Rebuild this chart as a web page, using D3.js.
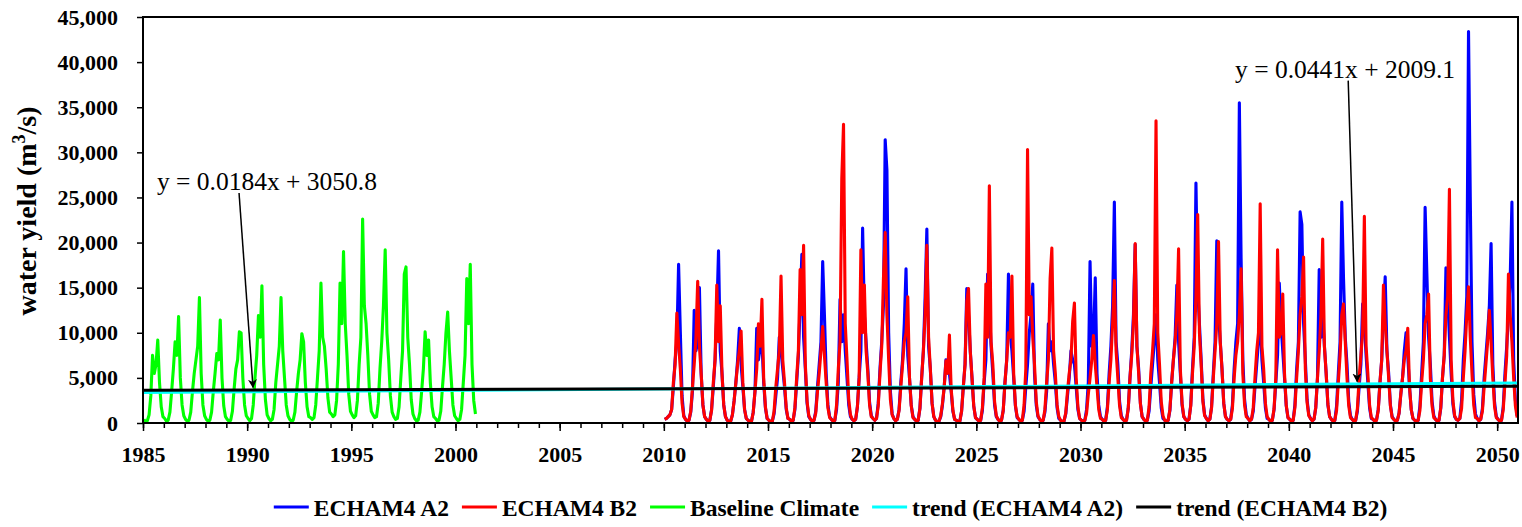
<!DOCTYPE html>
<html>
<head>
<meta charset="utf-8">
<script src="https://cdn.jsdelivr.net/npm/d3@7/dist/d3.min.js"></script>
<style>
  body { margin: 0; background: #fff; }
  svg { display: block; font-family: "Liberation Serif", "Times New Roman", serif; }
  .axis text { font-family: "Liberation Serif", "Times New Roman", serif; font-size: 22px; font-weight: bold; fill: #000; }
  .axis line { stroke: #000; stroke-width: 1.5px; }
  .axis path { display: none; }
  .series { fill: none; stroke-width: 3.1px; stroke-linejoin: round; }
</style>
</head>
<body>
<svg id="chart" width="1522" height="527"></svg>
<script>
// monthly water yield (m3/s), one row per year, Jan..Dec
const baselineStart = 1985;
const baselineRows = [
  [400, 150, 250, 900, 3000, 7500, 5500, 6500, 9200, 4500, 1800, 700],
  [500, 200, 300, 1200, 3500, 6000, 9000, 7500, 11800, 5000, 2000, 800],
  [400, 200, 300, 1200, 3500, 5500, 7000, 8500, 13900, 5500, 2000, 800],
  [400, 200, 300, 1200, 3500, 5500, 7700, 7000, 11400, 5000, 1900, 700],
  [400, 200, 300, 1300, 3800, 6000, 7000, 10100, 10000, 5000, 2000, 800],
  [500, 250, 500, 2000, 5000, 7500, 11900, 9500, 15200, 6500, 2600, 900],
  [500, 250, 400, 1500, 4500, 6500, 8500, 13900, 8000, 5000, 2000, 800],
  [400, 200, 300, 1200, 3500, 5500, 7000, 9900, 9000, 4500, 1800, 700],
  [600, 400, 600, 2000, 5000, 8000, 15500, 9500, 8500, 6000, 2800, 1200],
  [1000, 700, 900, 2500, 6500, 15500, 11000, 19000, 11000, 7500, 3200, 1300],
  [900, 600, 800, 2500, 6500, 9500, 22600, 13000, 11000, 7500, 3200, 1300],
  [900, 600, 700, 2200, 6000, 9000, 13000, 19200, 10000, 7000, 3000, 1200],
  [700, 400, 500, 1800, 5000, 8000, 16500, 17300, 9500, 6500, 2600, 1000],
  [500, 250, 300, 1200, 3500, 6000, 10100, 7500, 9200, 4500, 1800, 700],
  [500, 250, 300, 1300, 4000, 6500, 10000, 12300, 8000, 5000, 2000, 800],
  [500, 250, 400, 1500, 4500, 7500, 16000, 11000, 17600, 6500, 2500, 1000]
];

const scenarioStart = 2010;
const a2Rows = [
  [400, 500, 700, 900, 1500, 4000, 7000, 9000, 17600, 10100, 3000, 800],
  [400, 200, 300, 1200, 3500, 12500, 8000, 9000, 15000, 5500, 2000, 700],
  [400, 200, 300, 1500, 4000, 7000, 12000, 19100, 8000, 5500, 2000, 700],
  [300, 150, 200, 900, 2500, 4500, 7000, 10500, 6500, 4000, 1500, 500],
  [300, 150, 200, 1200, 3500, 10500, 7000, 8500, 9000, 4500, 1700, 500],
  [300, 150, 200, 1000, 3000, 5000, 9500, 8000, 6000, 4000, 1500, 500],
  [400, 200, 300, 1500, 4500, 7500, 13000, 18700, 9500, 6000, 2200, 700],
  [400, 200, 300, 1300, 4000, 6500, 9000, 17900, 12000, 5500, 2000, 700],
  [400, 200, 300, 1500, 4500, 13700, 9000, 12000, 8000, 5000, 2000, 700],
  [400, 250, 400, 1800, 5000, 8000, 21600, 12000, 9000, 6000, 2300, 800],
  [500, 300, 500, 2200, 6000, 9000, 13000, 31400, 28000, 10000, 3500, 1000],
  [500, 250, 400, 1500, 4500, 7000, 11000, 17100, 7500, 5000, 2000, 700],
  [400, 200, 300, 1600, 5000, 8000, 14000, 21500, 8500, 6000, 2200, 700],
  [300, 150, 200, 700, 2000, 4000, 7000, 6000, 5500, 3500, 1300, 400],
  [300, 150, 200, 1300, 4000, 6500, 14900, 12000, 8000, 5000, 1900, 600],
  [400, 200, 300, 1400, 4500, 7000, 16500, 13000, 8500, 5500, 2000, 700],
  [400, 200, 300, 1400, 4500, 7000, 16500, 10000, 8000, 5000, 1900, 600],
  [400, 200, 300, 1300, 4000, 6500, 10000, 12000, 15400, 5500, 2000, 700],
  [400, 200, 300, 1200, 3500, 11000, 8000, 9000, 6500, 4500, 1700, 500],
  [300, 150, 200, 1000, 3000, 5000, 8000, 7000, 6500, 4000, 1500, 500],
  [300, 200, 300, 1500, 4500, 17900, 8500, 9000, 16100, 5500, 2000, 700],
  [400, 200, 300, 1800, 5500, 8500, 13000, 24500, 9000, 6500, 2400, 800],
  [400, 200, 300, 1600, 5000, 8000, 12000, 19800, 8500, 6000, 2200, 700],
  [400, 200, 300, 1300, 4000, 6500, 9000, 12000, 7000, 4500, 1700, 500],
  [300, 200, 300, 1400, 4500, 7000, 9500, 15300, 9000, 5500, 2000, 700],
  [400, 250, 400, 2000, 6000, 9500, 26600, 15000, 11000, 7000, 2600, 900],
  [500, 250, 400, 1800, 5500, 9000, 20200, 12000, 9000, 6000, 2200, 700],
  [400, 250, 400, 2000, 6000, 9000, 11000, 35500, 18300, 7000, 2600, 900],
  [500, 250, 400, 1300, 4000, 6500, 9000, 12000, 7000, 4500, 1700, 500],
  [400, 200, 300, 1500, 4500, 7500, 15500, 11000, 8000, 5000, 1900, 600],
  [400, 200, 300, 2000, 6000, 9000, 23400, 22000, 11000, 7000, 2600, 900],
  [500, 250, 400, 1700, 5000, 17000, 9500, 12000, 8500, 5500, 2000, 700],
  [400, 200, 300, 1900, 5500, 9000, 24500, 16000, 9500, 6500, 2400, 800],
  [400, 200, 300, 1300, 4000, 6500, 13200, 11000, 7500, 4500, 1700, 500],
  [400, 200, 300, 1500, 4500, 7000, 12000, 16200, 8000, 5500, 2000, 700],
  [400, 200, 300, 1100, 3200, 5000, 8000, 10000, 7500, 4000, 1500, 500],
  [300, 200, 300, 1900, 5500, 9000, 23900, 16600, 9500, 6500, 2400, 800],
  [400, 200, 300, 1600, 5000, 7500, 17200, 14000, 9500, 5500, 2100, 700],
  [400, 300, 500, 2500, 7000, 10000, 14000, 43400, 25100, 9000, 3200, 1000],
  [500, 250, 400, 1600, 5000, 7500, 10000, 13000, 19900, 6500, 2300, 700],
  [400, 200, 300, 1800, 5500, 8500, 12000, 16000, 24500, 7000, 2500, 800]
];

const b2Rows = [
  [400, 500, 700, 900, 1500, 4500, 6500, 12200, 8800, 6000, 2200, 700],
  [400, 200, 300, 1300, 4000, 6500, 9400, 15700, 8500, 5500, 2000, 700],
  [400, 200, 300, 1400, 4500, 7000, 15300, 9000, 13000, 5500, 2000, 700],
  [300, 150, 200, 900, 2500, 4500, 6500, 8000, 10200, 4500, 1500, 500],
  [300, 150, 200, 1200, 3500, 6000, 11000, 8500, 13700, 5000, 1800, 500],
  [300, 150, 200, 1300, 4000, 6000, 8000, 16300, 7000, 4500, 1700, 500],
  [400, 200, 300, 1700, 5000, 8000, 17000, 12000, 19700, 6500, 2400, 800],
  [400, 200, 300, 1100, 3500, 5500, 8000, 10700, 7500, 4500, 1700, 600],
  [400, 200, 300, 2000, 6000, 9000, 27100, 33100, 11000, 7000, 2600, 900],
  [400, 250, 400, 1800, 5000, 19200, 10000, 15300, 8000, 5500, 2000, 700],
  [500, 300, 500, 1900, 5500, 8500, 16000, 21100, 12000, 7000, 2600, 900],
  [500, 250, 400, 1400, 4000, 6500, 9000, 10000, 14000, 5000, 1900, 600],
  [400, 200, 300, 1600, 5000, 8000, 12000, 19700, 9500, 6000, 2200, 700],
  [300, 150, 200, 800, 2200, 4000, 6900, 5500, 9750, 3800, 1400, 400],
  [300, 150, 200, 1300, 4000, 6500, 13500, 14900, 8000, 5000, 1900, 600],
  [400, 200, 300, 1700, 5000, 15400, 9500, 26300, 9000, 6500, 2400, 800],
  [400, 200, 300, 1400, 4500, 7000, 10000, 9500, 16300, 5500, 2000, 700],
  [400, 200, 300, 2000, 6000, 30300, 12000, 14000, 9500, 6500, 2400, 800],
  [400, 200, 300, 1500, 4500, 7000, 16000, 19400, 8000, 5500, 2000, 700],
  [300, 150, 200, 1100, 3500, 5500, 7000, 11300, 13300, 5000, 1800, 500],
  [300, 200, 300, 1100, 3200, 5000, 7000, 9700, 6500, 4000, 1500, 500],
  [400, 200, 300, 1500, 4500, 7000, 11000, 15800, 8000, 5000, 1900, 600],
  [400, 200, 300, 1600, 5000, 7500, 11000, 19900, 8500, 5500, 2100, 700],
  [400, 200, 300, 1800, 5500, 8000, 11000, 33500, 10000, 6500, 2400, 800],
  [300, 200, 300, 1500, 4500, 7000, 9000, 12000, 19300, 6000, 2200, 700],
  [400, 250, 400, 1900, 5500, 8500, 14000, 23100, 10000, 6500, 2400, 800],
  [500, 250, 400, 1700, 5000, 8000, 11000, 20100, 9000, 6000, 2200, 700],
  [400, 250, 400, 1600, 5000, 7500, 9000, 12000, 17100, 5500, 2000, 700],
  [500, 250, 400, 1700, 5000, 8000, 10000, 24300, 8500, 6000, 2200, 700],
  [400, 200, 300, 1600, 5000, 19200, 9500, 10000, 14300, 5500, 2000, 600],
  [400, 200, 300, 1700, 5000, 8000, 12000, 14000, 18400, 6000, 2300, 800],
  [500, 250, 400, 1700, 5000, 8000, 12000, 20400, 8500, 5500, 2100, 700],
  [400, 200, 300, 1400, 4500, 7500, 12000, 13200, 9000, 5000, 1900, 600],
  [400, 200, 300, 1600, 5000, 7500, 10000, 22900, 8500, 5500, 2000, 600],
  [400, 200, 300, 1400, 4500, 7000, 15300, 11000, 8000, 5000, 1900, 600],
  [400, 200, 300, 1100, 3200, 5000, 7000, 8000, 10500, 4000, 1500, 500],
  [300, 200, 300, 1400, 4500, 7000, 11000, 12000, 14300, 5000, 1900, 600],
  [400, 200, 300, 1700, 5000, 7500, 12000, 14000, 25900, 7000, 2500, 800],
  [400, 300, 500, 1600, 5000, 8000, 12000, 15100, 9500, 5500, 2000, 600],
  [500, 250, 400, 1300, 4000, 6500, 9000, 12500, 9000, 5000, 1800, 600],
  [400, 200, 300, 1500, 4500, 7500, 16500, 12000, 9000, 5000, 1900, 600]
];

// linear trends, x = Excel date serial: [slope, intercept]
const trendA2 = [0.0441, 2009.1];
const trendB2 = [0.0184, 3050.8];

const yTicks = [0, 5000, 10000, 15000, 20000, 25000, 30000, 35000, 40000, 45000];
const xLabelYears = [1985, 1990, 1995, 2000, 2005, 2010, 2015, 2020, 2025, 2030, 2035, 2040, 2045, 2050];
const xDomain = [1985, 2051];

const legendLabels = ["ECHAM4 A2", "ECHAM4 B2", "Baseline Climate", "trend (ECHAM4 A2)", "trend (ECHAM4 B2)"];
const legendColors = ["#0000ff", "#ff0000", "#00ff00", "#00ffff", "#000000"];

// equation labels: text, label position (year, value), arrow start and tip (year, value)
const equationLabels = [
  {text: "y = 0.0184x + 3050.8", at: [1985.67, 25800], from: [1989.61, 25500], to: [1990.28, 3950]},
  {text: "y = 0.0441x + 2009.1", at: [2037.42, 38250], from: [2042.85, 37950], to: [2043.28, 4600]}
];


const margin = {top: 17, right: 4, bottom: 104, left: 143};
const svg = d3.select("#chart");
const width = +svg.attr("width") - margin.left - margin.right;
const height = +svg.attr("height") - margin.top - margin.bottom;

const chart = svg.append("g")
                 .attr("transform", `translate(${margin.left},${margin.top})`);

const x = d3.scaleLinear().domain(xDomain).range([0, width]);
const y = d3.scaleLinear().domain([0, 45000]).range([height, 0]);

// rows -> points at mid month
function toPoints(rows, start) {
  const pts = [];
  rows.forEach((vals, i) => {
    vals.forEach((v, m) => pts.push({t: start + i + (m + 0.5) / 12, v: v}));
  });
  return pts;
}

const seriesA2 = toPoints(a2Rows, scenarioStart);
const seriesB2 = toPoints(b2Rows, scenarioStart);
const seriesBase = toPoints(baselineRows, baselineStart);

// decimal year -> excel serial date
const excelSerial = t => (Date.UTC(1985, 0, 1) - Date.UTC(1899, 11, 30)) / 864e5 + (t - 1985) * 365.25;


chart.append("defs").append("clipPath")
     .attr("id", "plot-clip")
   .append("rect")
     .attr("width", width)
     .attr("height", height);


// axes
const yAxis = d3.axisLeft(y)
                .tickValues(yTicks)
                .tickFormat(d3.format(","))
                .tickSize(6)
                .tickPadding(19);

chart.append("g")
     .attr("class", "axis y-axis")
     .call(yAxis);

const xMinor = d3.axisBottom(x)
                 .tickValues(d3.range(xDomain[0], xDomain[1]))
                 .tickFormat("")
                 .tickSize(5);

const xMajor = d3.axisBottom(x)
                 .tickValues(xLabelYears)
                 .tickFormat(d3.format("d"))
                 .tickSize(8)
                 .tickPadding(15);

chart.append("g")
     .attr("class", "axis x-axis")
     .attr("transform", `translate(0,${height})`)
     .call(xMinor);

chart.append("g")
     .attr("class", "axis x-axis")
     .attr("transform", `translate(0,${height})`)
     .call(xMajor);


// series
const line = d3.line()
               .x(d => x(d.t))
               .y(d => y(d.v));

const plot = chart.append("g").attr("clip-path", "url(#plot-clip)");

[[seriesA2, legendColors[0]], [seriesB2, legendColors[1]], [seriesBase, legendColors[2]]].forEach(([data, color]) => {
  plot.append("path")
      .datum(data)
      .attr("class", "series")
      .attr("stroke", color)
      .attr("d", line);
});

// trend lines over the full axis
[[trendA2, legendColors[3]], [trendB2, legendColors[4]]].forEach(([coef, color]) => {
  const pts = xDomain.map(t => ({t: t, v: coef[0] * excelSerial(t) + coef[1]}));
  plot.append("path")
      .datum(pts)
      .attr("class", "series")
      .attr("stroke", color)
      .attr("d", line);
});


// frame
chart.append("rect")
     .attr("width", width)
     .attr("height", height)
     .attr("fill", "none")
     .attr("stroke", "#000")
     .attr("stroke-width", 2);


// equation labels with arrows
svg.append("defs").append("marker")
   .attr("id", "arrow")
   .attr("viewBox", "0 0 10 10")
   .attr("refX", 9)
   .attr("refY", 5)
   .attr("markerWidth", 9)
   .attr("markerHeight", 9)
   .attr("markerUnits", "userSpaceOnUse")
   .attr("orient", "auto")
 .append("path")
   .attr("d", "M0,0 L10,5 L0,10 L3,5 Z")
   .attr("fill", "#000");

equationLabels.forEach(d => {
  chart.append("line")
       .attr("x1", x(d.from[0]))
       .attr("y1", y(d.from[1]))
       .attr("x2", x(d.to[0]))
       .attr("y2", y(d.to[1]))
       .attr("stroke", "#000")
       .attr("stroke-width", 1.5)
       .attr("marker-end", "url(#arrow)");

  chart.append("text")
       .attr("x", x(d.at[0]))
       .attr("y", y(d.at[1]))
       .attr("font-size", "25.5px")
       .attr("fill", "#000")
       .text(d.text);
});


// y axis title
const yTitle = svg.append("text")
                  .attr("transform", `translate(36,${margin.top + height / 2 - 9}) rotate(-90)`)
                  .attr("text-anchor", "middle")
                  .attr("font-size", "28px")
                  .attr("font-weight", "bold");
yTitle.append("tspan").text("water yield (m");
yTitle.append("tspan").attr("font-size", "18px").attr("dy", "-11").text("3");
yTitle.append("tspan").attr("dy", "11").text("/s)");


// legend
const legend = svg.append("g").attr("class", "legend");
const sampleLen = 35;
const legendY = 507;
const items = legendLabels.map((label, i) => {
  const g = legend.append("g");
  g.append("line")
   .attr("x1", 0)
   .attr("x2", sampleLen)
   .attr("y1", 0)
   .attr("y2", 0)
   .attr("stroke", legendColors[i])
   .attr("stroke-width", 3);
  const t = g.append("text")
             .attr("x", sampleLen + 5)
             .attr("y", 9)
             .attr("font-size", "23.5px")
             .attr("font-weight", "bold")
             .text(label);
  return {g: g, w: sampleLen + 5 + t.node().getComputedTextLength()};
});

const gap = 13;
const total = d3.sum(items, d => d.w) + gap * (items.length - 1);
let cursor = margin.left + width / 2 - total / 2;
items.forEach(d => {
  d.g.attr("transform", `translate(${cursor},${legendY})`);
  cursor += d.w + gap;
});
</script>
</body>
</html>
